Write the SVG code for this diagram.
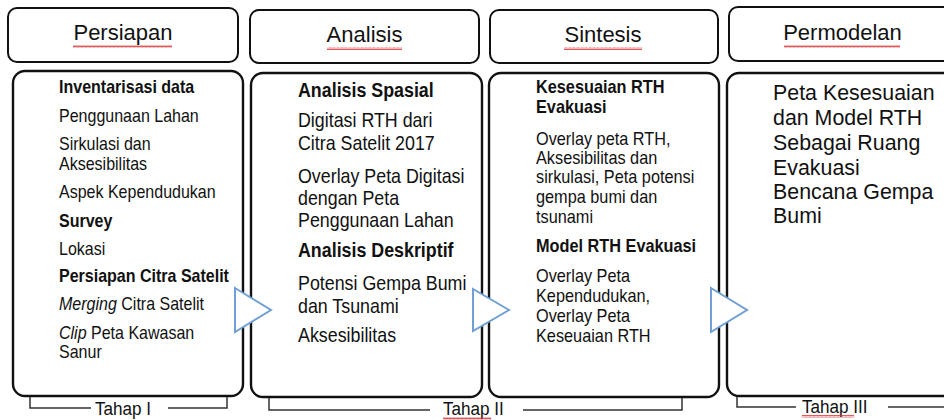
<svg xmlns="http://www.w3.org/2000/svg" width="944" height="420" viewBox="0 0 944 420">
<style>
text{font-family:"Liberation Sans",Arial,sans-serif;fill:#111}
.hb{fill:#fff;stroke:#111;stroke-width:2}
.cb{fill:#fff;stroke:#111;stroke-width:2.4}
.hd{font-size:22px;text-anchor:middle}
.t1{font-size:17.8px}
.t2{font-size:19.5px}
.t3{font-size:18px}
.t4{font-size:22.5px}
.b{font-weight:bold}
.i{font-style:italic}
.arr{fill:#fff;stroke:#6f9fd4;stroke-width:2;stroke-linejoin:miter}
.br{fill:none;stroke:#333;stroke-width:1.5}
.tp{font-size:19px}
.sq{fill:url(#squig)}
</style>
<defs>
<pattern id="squig" width="4" height="3" patternUnits="userSpaceOnUse">
<path d="M0,2.5 L1,0.5 L2,2.5 L3,0.5 L4,2.5" fill="none" stroke="#e03030" stroke-width="0.8"/>
</pattern>
</defs>

<g id="header-persiapan">
<rect class="hb" x="8" y="8" width="230" height="54" rx="9"/>
<text class="hd" x="123" y="40">Persiapan</text>
<rect class="sq" x="73" y="45" width="99" height="3"/>
</g>
<g id="header-analisis">
<rect class="hb" x="250" y="10" width="229" height="53" rx="9"/>
<text class="hd" x="364.5" y="42">Analisis</text>
<rect class="sq" x="327" y="47" width="75" height="3"/>
</g>
<g id="header-sintesis">
<rect class="hb" x="490" y="10" width="228" height="53" rx="9"/>
<text class="hd" x="603" y="42">Sintesis</text>
<rect class="sq" x="564" y="47" width="78" height="3"/>
</g>
<g id="header-permodelan">
<rect class="hb" x="729" y="7" width="228" height="54" rx="9"/>
<text class="hd" x="842.5" y="40">Permodelan</text>
<rect class="sq" x="784" y="45" width="116" height="3"/>
</g>

<g id="box-persiapan">
<rect class="cb" x="13" y="71" width="230" height="325" rx="12"/>
<g transform="translate(59,0) scale(0.9,1)">
<text class="t1 b" x="0" y="93">Inventarisasi data</text>
<text class="t1" x="0" y="122">Penggunaan Lahan</text>
<text class="t1" x="0" y="150">Sirkulasi dan</text>
<text class="t1" x="0" y="170">Aksesibilitas</text>
<text class="t1" x="0" y="198">Aspek Kependudukan</text>
<text class="t1 b" x="0" y="227">Survey</text>
<text class="t1" x="0" y="255">Lokasi</text>
<text class="t1 b" x="0" y="282">Persiapan Citra Satelit</text>
<text class="t1" x="0" y="310"><tspan class="i">Merging</tspan> Citra Satelit</text>
<text class="t1" x="0" y="339"><tspan class="i">Clip</tspan> Peta Kawasan</text>
<text class="t1" x="0" y="358">Sanur</text>
</g>
</g>

<g id="box-analisis">
<rect class="cb" x="251" y="73" width="231" height="324" rx="12"/>
<g transform="translate(298,0) scale(0.915,1)">
<text class="t2 b" x="0" y="97">Analisis Spasial</text>
<text class="t2" x="0" y="127">Digitasi RTH dari</text>
<text class="t2" x="0" y="150">Citra Satelit 2017</text>
<text class="t2" x="0" y="183">Overlay Peta Digitasi</text>
<text class="t2" x="0" y="205">dengan Peta</text>
<text class="t2" x="0" y="227">Penggunaan Lahan</text>
<text class="t2 b" x="0" y="257">Analisis Deskriptif</text>
<text class="t2" x="0" y="290">Potensi Gempa Bumi</text>
<text class="t2" x="0" y="313">dan Tsunami</text>
<text class="t2" x="0" y="342">Aksesibilitas</text>
</g>
</g>

<g id="box-sintesis">
<rect class="cb" x="489" y="73" width="230" height="324" rx="12"/>
<g transform="translate(536,0) scale(0.905,1)">
<text class="t3 b" x="0" y="93">Kesesuaian RTH</text>
<text class="t3 b" x="0" y="113">Evakuasi</text>
<text class="t3" x="0" y="145">Overlay peta RTH,</text>
<text class="t3" x="0" y="164">Aksesibilitas dan</text>
<text class="t3" x="0" y="183">sirkulasi, Peta potensi</text>
<text class="t3" x="0" y="203">gempa bumi dan</text>
<text class="t3" x="0" y="223">tsunami</text>
<text class="t3 b" x="0" y="252">Model RTH Evakuasi</text>
<text class="t3" x="0" y="282">Overlay Peta</text>
<text class="t3" x="0" y="302">Kependudukan,</text>
<text class="t3" x="0" y="322">Overlay Peta</text>
<text class="t3" x="0" y="342">Keseuaian RTH</text>
</g>
</g>

<g id="box-permodelan">
<rect class="cb" x="727" y="73" width="233" height="323" rx="12"/>
<g transform="translate(773,0) scale(0.95,1)">
<text class="t4" x="0" y="100">Peta Kesesuaian</text>
<text class="t4" x="0" y="125">dan Model RTH</text>
<text class="t4" x="0" y="150">Sebagai Ruang</text>
<text class="t4" x="0" y="175">Evakuasi</text>
<text class="t4" x="0" y="199">Bencana Gempa</text>
<text class="t4" x="0" y="223">Bumi</text>
</g>
</g>

<g id="connectors">
<polygon class="arr" points="235,288 271,310 235,332"/>
<polygon class="arr" points="473,289 509,310 473,331"/>
<polygon class="arr" points="711,288 747,310 711,332"/>
</g>

<g id="tahap-1">
<polyline class="br" points="30,397 30,408 91,408"/>
<polyline class="br" points="168,408 227,408 227,397"/>
<text class="tp" transform="translate(95,415) scale(0.9,1)">Tahap I</text>
</g>
<g id="tahap-2">
<polyline class="br" points="269,398 269,410 430,410"/>
<polyline class="br" points="523,410 682,410 682,398"/>
<text class="tp" transform="translate(443,415) scale(0.9,1)">Tahap II</text>
<rect class="sq" x="443" y="417" width="48" height="3"/>
</g>
<g id="tahap-3">
<polyline class="br" points="737,397 737,407 796,407"/>
<polyline class="br" points="888,407 944,407"/>
<text class="tp" transform="translate(802,413) scale(0.9,1)">Tahap III</text>
<rect class="sq" x="802" y="415" width="52" height="3"/>
</g>
</svg>
